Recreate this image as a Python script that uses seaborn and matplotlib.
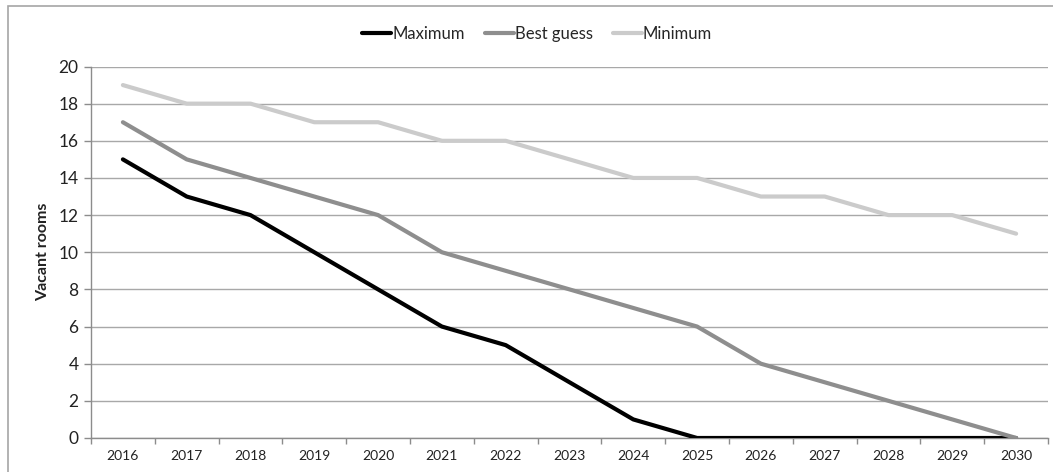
import matplotlib
matplotlib.use("Agg")
import matplotlib.pyplot as plt
from matplotlib.patches import Rectangle
from matplotlib.ticker import FixedLocator, NullFormatter
import seaborn as sns
import pandas as pd

years = [2016, 2017, 2018, 2019, 2020, 2021, 2022, 2023,
         2024, 2025, 2026, 2027, 2028, 2029, 2030]
maximum = [15, 13, 12, 10, 8, 6, 5, 3, 1, 0, 0, 0, 0, 0, 0]
best_guess = [17, 15, 14, 13, 12, 10, 9, 8, 7, 6, 4, 3, 2, 1, 0]
minimum = [19, 18, 18, 17, 17, 16, 16, 15, 14, 14, 13, 13, 12, 12, 11]
series_names = ["Maximum", "Best guess", "Minimum"]
colors = ["#000000", "#8e8e8e", "#cbcbcb"]

frames = []
for name, vals in zip(series_names, [maximum, best_guess, minimum]):
    frames.append(pd.DataFrame({"pos": range(len(years)), "year": years,
                                "value": vals, "series": name}))
df = pd.concat(frames, ignore_index=True)

sns.set_theme(style="white")
plt.rcParams["font.family"] = ["Lato", "DejaVu Sans"]

fig = plt.figure(figsize=(10.53, 4.72), dpi=100)
W, H = 1053, 472
ax = fig.add_axes([91 / W, (H - 438) / H, (1048 - 91) / W, (438 - 66.5) / H])

# outer chart frame
fig.patches.append(Rectangle((7.5 / W, -0.1), 1.2, (H - 5.5) / H + 0.1,
                             transform=fig.transFigure, fill=False,
                             edgecolor="#a6a6a6", linewidth=1.2, zorder=0))

sns.lineplot(data=df, x="pos", y="value", hue="series", hue_order=series_names,
             palette=colors, linewidth=3.0, ax=ax, legend=False, zorder=3)

ax.set_xlim(-0.5, len(years) - 0.5)
ax.set_ylim(0, 20)
ax.set_yticks(range(0, 21, 2))
ax.set_yticklabels([str(v) for v in range(0, 21, 2)], fontsize=12.5, color="#222222")
ax.yaxis.grid(True, color="#a8a8a8", linewidth=1.0, zorder=0)
ax.xaxis.grid(False)

ax.set_xticks(range(len(years)))
ax.set_xticklabels([str(y) for y in years], fontsize=10, color="#222222")
ax.xaxis.set_minor_locator(FixedLocator([i - 0.5 for i in range(len(years) + 1)]))
ax.xaxis.set_minor_formatter(NullFormatter())
ax.tick_params(axis="x", which="major", length=0, pad=9)
ax.tick_params(axis="x", which="minor", length=4, width=1, color="#8c8c8c",
               direction="out", bottom=True)
ax.tick_params(axis="y", which="major", length=5, width=1, color="#8c8c8c",
               direction="out", left=True, pad=4)

for side in ["top", "right"]:
    ax.spines[side].set_visible(False)
for side in ["left", "bottom"]:
    ax.spines[side].set_color("#8c8c8c")
    ax.spines[side].set_linewidth(1.0)

ax.set_xlabel("")
ax.set_ylabel("Vacant rooms", fontsize=11.5, fontweight="bold", color="#222222",
              labelpad=6)

handles = [plt.Line2D([], [], color=c, linewidth=3.0) for c in colors]
fig.legend(handles, series_names, loc="center", bbox_to_anchor=(537 / W, (H - 34) / H),
           ncol=3, frameon=False, fontsize=12, handlelength=1.75,
           handletextpad=0.05, columnspacing=1.2)

fig.savefig("out.png", dpi=100, facecolor="white")
